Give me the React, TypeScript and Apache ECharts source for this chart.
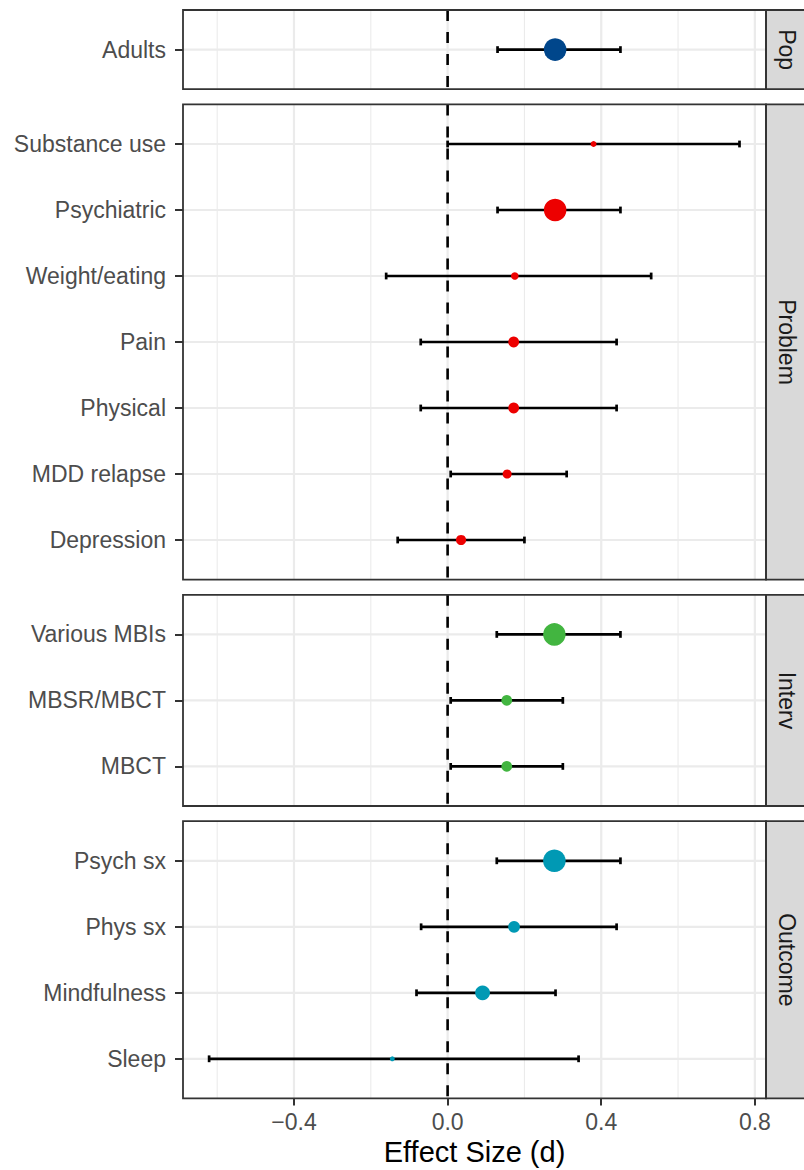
import React, { useEffect, useRef } from "react";
import * as echarts from "echarts";

// ---------------- data ----------------
const panelNames = ["Pop", "Problem", "Interv", "Outcome"];
const panelColors = ["#00468B", "#ED0000", "#42B540", "#0099B4"];

const popLabels = ["Adults"];
const popEst = [0.28];
const popLow = [0.13];
const popHigh = [0.45];
const popStudies = [44];

const problemLabels = ["Substance use", "Psychiatric", "Weight/eating", "Pain", "Physical", "MDD relapse", "Depression"];
const problemEst = [0.38, 0.28, 0.175, 0.172, 0.172, 0.155, 0.035];
const problemLow = [0.0, 0.13, -0.16, -0.07, -0.07, 0.008, -0.13];
const problemHigh = [0.76, 0.45, 0.53, 0.44, 0.44, 0.31, 0.2];
const problemStudies = [3, 44, 5, 10, 10, 7, 9];

const intervLabels = ["Various MBIs", "MBSR/MBCT", "MBCT"];
const intervEst = [0.278, 0.154, 0.154];
const intervLow = [0.128, 0.008, 0.008];
const intervHigh = [0.45, 0.3, 0.3];
const intervStudies = [44, 10, 10];

const outcomeLabels = ["Psych sx", "Phys sx", "Mindfulness", "Sleep"];
const outcomeEst = [0.278, 0.173, 0.091, -0.144];
const outcomeLow = [0.128, -0.069, -0.081, -0.621];
const outcomeHigh = [0.45, 0.44, 0.281, 0.341];
const outcomeStudies = [44, 12, 19, 2];

const majorTicks = [-0.4, 0, 0.4, 0.8];
const minorTicks = [-0.6, -0.2, 0.2, 0.6];
const xMin = -0.689;
const xMax = 0.829;
const xTitle = "Effect Size (d)";

const panelData = [
  { labels: popLabels, est: popEst, low: popLow, high: popHigh, k: popStudies },
  { labels: problemLabels, est: problemEst, low: problemLow, high: problemHigh, k: problemStudies },
  { labels: intervLabels, est: intervEst, low: intervLow, high: intervHigh, k: intervStudies },
  { labels: outcomeLabels, est: outcomeEst, low: outcomeLow, high: outcomeHigh, k: outcomeStudies },
];

// ---------------- layout ----------------
const FONT = "'Liberation Sans', Arial, Helvetica, sans-serif";
const LEFT = 183;
const RIGHT = 766;
const TOP0 = 10;
const ROW = 66;
const GAP = 15.2;
const EXPAND = 0.6;
const STRIP_W = 60;
const BORDER = "#333333";

function buildOption() {
  const grids: any[] = [];
  const xAxes: any[] = [];
  const yAxes: any[] = [];
  const series: any[] = [];
  const graphics: any[] = [];
  let top = TOP0;
  const nP = panelData.length;

  panelData.forEach((p, i) => {
    const n = p.labels.length;
    const h = (n - 1 + 2 * EXPAND) * ROW;
    const rows = p.labels.map((_, j) => j);
    const isLast = i === nP - 1;

    grids.push({ left: LEFT, top, width: RIGHT - LEFT, height: h, show: false, containLabel: false });

    xAxes.push({
      type: "value",
      gridIndex: i,
      position: "bottom",
      min: xMin,
      max: xMax,
      axisLine: { show: false, onZero: false },
      splitLine: { show: false },
      axisTick: {
        show: isLast,
        length: 7,
        customValues: majorTicks,
        lineStyle: { color: BORDER, width: 2 },
      },
      axisLabel: {
        show: isLast,
        customValues: majorTicks,
        color: "#4D4D4D",
        fontSize: 23,
        fontFamily: FONT,
        margin: 12,
        formatter: (v: number) => (v < 0 ? "\u2212" : "") + Math.abs(v).toFixed(1),
      },
    });

    yAxes.push({
      type: "value",
      gridIndex: i,
      position: "left",
      inverse: true,
      min: -EXPAND,
      max: n - 1 + EXPAND,
      axisLine: { show: false, onZero: false },
      splitLine: { show: false },
      axisTick: {
        show: true,
        length: 8,
        customValues: rows,
        lineStyle: { color: BORDER, width: 2 },
      },
      axisLabel: {
        customValues: rows,
        color: "#4D4D4D",
        fontSize: 23,
        fontFamily: FONT,
        margin: 17,
        formatter: (v: number) => p.labels[Math.round(v)] ?? "",
      },
    });

    // minor vertical grid
    series.push({
      type: "custom",
      xAxisIndex: i,
      yAxisIndex: i,
      silent: true,
      z: 1,
      data: minorTicks.map((v) => [v, 0]),
      renderItem: (params: any, api: any) => {
        const cs = params.coordSys;
        const x = api.coord([api.value(0), 0])[0];
        return {
          type: "line",
          shape: { x1: x, y1: cs.y, x2: x, y2: cs.y + cs.height },
          style: { stroke: "#EBEBEB", lineWidth: 1.1 },
        };
      },
    });
    // major vertical grid
    series.push({
      type: "custom",
      xAxisIndex: i,
      yAxisIndex: i,
      silent: true,
      z: 1,
      data: majorTicks.map((v) => [v, 0]),
      renderItem: (params: any, api: any) => {
        const cs = params.coordSys;
        const x = api.coord([api.value(0), 0])[0];
        return {
          type: "line",
          shape: { x1: x, y1: cs.y, x2: x, y2: cs.y + cs.height },
          style: { stroke: "#EBEBEB", lineWidth: 2.2 },
        };
      },
    });
    // horizontal grid at each row
    series.push({
      type: "custom",
      xAxisIndex: i,
      yAxisIndex: i,
      silent: true,
      z: 1,
      data: rows.map((r) => [0, r]),
      renderItem: (params: any, api: any) => {
        const cs = params.coordSys;
        const y = api.coord([0, api.value(1)])[1];
        return {
          type: "line",
          shape: { x1: cs.x, y1: y, x2: cs.x + cs.width, y2: y },
          style: { stroke: "#EBEBEB", lineWidth: 2.2 },
        };
      },
    });
    // dashed zero line
    series.push({
      type: "custom",
      xAxisIndex: i,
      yAxisIndex: i,
      silent: true,
      z: 2,
      data: [[0, 0]],
      renderItem: (params: any, api: any) => {
        const cs = params.coordSys;
        const x = api.coord([api.value(0), 0])[0];
        return {
          type: "line",
          shape: { x1: x, y1: cs.y, x2: x, y2: cs.y + cs.height },
          style: { stroke: "#000000", lineWidth: 2.6, lineDash: [11, 11] },
        };
      },
    });
    // error bars
    series.push({
      type: "custom",
      xAxisIndex: i,
      yAxisIndex: i,
      silent: true,
      z: 3,
      data: rows.map((r) => [p.low[r], r, p.high[r]]),
      renderItem: (params: any, api: any) => {
        const a = api.coord([api.value(0), api.value(1)]);
        const b = api.coord([api.value(2), api.value(1)]);
        const cap = 3.4;
        const st = { stroke: "#000000", lineWidth: 2.7 };
        return {
          type: "group",
          children: [
            { type: "line", shape: { x1: a[0], y1: a[1], x2: b[0], y2: b[1] }, style: st },
            { type: "line", shape: { x1: a[0], y1: a[1] - cap, x2: a[0], y2: a[1] + cap }, style: st },
            { type: "line", shape: { x1: b[0], y1: b[1] - cap, x2: b[0], y2: b[1] + cap }, style: st },
          ],
        };
      },
    });
    // points
    series.push({
      type: "scatter",
      xAxisIndex: i,
      yAxisIndex: i,
      silent: true,
      z: 4,
      symbol: "circle",
      symbolSize: (val: number[]) => 3.4 * Math.sqrt(val[2]),
      itemStyle: { color: panelColors[i], opacity: 1 },
      data: rows.map((r) => [p.est[r], r, p.k[r]]),
    });

    // strip
    graphics.push({
      type: "rect",
      z: 99,
      shape: { x: RIGHT, y: top, width: STRIP_W, height: h },
      style: { fill: "#D9D9D9", stroke: BORDER, lineWidth: 1.8 },
    });
    graphics.push({
      type: "text",
      z: 101,
      x: 787,
      y: top + h / 2,
      rotation: -Math.PI / 2,
      style: {
        text: panelNames[i],
        fontSize: 23,
        fontFamily: FONT,
        fill: "#1A1A1A",
        align: "center",
        verticalAlign: "middle",
      },
    });
    // panel border
    graphics.push({
      type: "rect",
      z: 100,
      shape: { x: LEFT, y: top, width: RIGHT - LEFT, height: h },
      style: { fill: "none", stroke: BORDER, lineWidth: 1.8 },
    });

    top += h + GAP;
  });

  graphics.push({
    type: "text",
    z: 101,
    x: (LEFT + RIGHT) / 2,
    y: 1152,
    style: {
      text: xTitle,
      fontSize: 29,
      fontFamily: FONT,
      fill: "#000000",
      align: "center",
      verticalAlign: "middle",
    },
  });

  return {
    animation: false,
    backgroundColor: "#FFFFFF",
    grid: grids,
    xAxis: xAxes,
    yAxis: yAxes,
    series,
    graphic: graphics,
  };
}

export default function App() {
  const ref = useRef<HTMLDivElement>(null);
  useEffect(() => {
    if (!ref.current) return;
    const chart = echarts.init(ref.current, undefined, { renderer: "svg" });
    chart.setOption(buildOption() as any);
    return () => chart.dispose();
  }, []);
  return (
    <div
      ref={ref}
      style={{ position: "absolute", left: 0, top: 0, width: 804, height: 1170 }}
    />
  );
}
